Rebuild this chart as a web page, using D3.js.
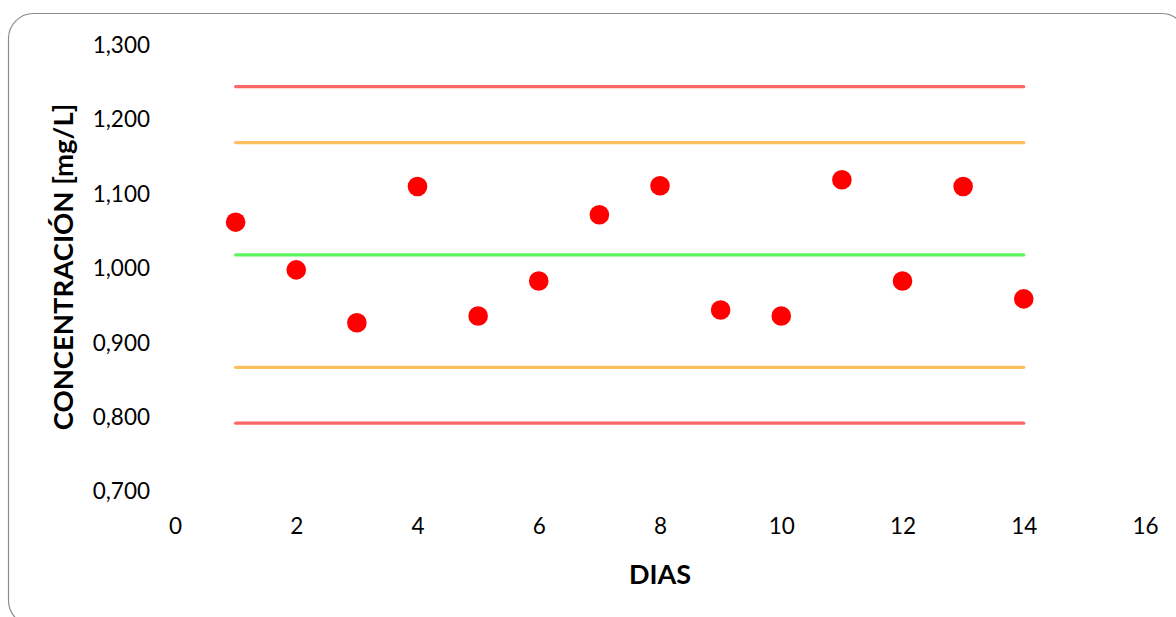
<!DOCTYPE html>
<html>
<head>
<meta charset="utf-8">
<script src="https://cdn.jsdelivr.net/npm/d3@7"></script>
<style>
  body { margin: 0; background: #fff; }
  text { font-family: Lato, "Open Sans", sans-serif; }
</style>
</head>
<body>
<div id="chart"></div>
<script>
// days and measured concentrations
var dias = [1, 2, 3, 4, 5, 6, 7, 8, 9, 10, 11, 12, 13, 14]
var concentracion = [1.062, 0.998, 0.927, 1.110, 0.936, 0.983, 1.072, 1.111, 0.944, 0.936, 1.119, 0.983, 1.110, 0.959]

// control limits (mean, +-2s, +-3s)
var limites = [
    { name: "LSC", value: 1.244, color: "#ff6666" },
    { name: "LSA", value: 1.169, color: "#ffbf5f" },
    { name: "media", value: 1.018, color: "#5cf55c" },
    { name: "LIA", value: 0.867, color: "#ffbf5f" },
    { name: "LIC", value: 0.792, color: "#ff6666" }
]

var xTicks = [0, 2, 4, 6, 8, 10, 12, 14, 16]
var yTicks = [0.7, 0.8, 0.9, 1.0, 1.1, 1.2, 1.3]

var width = 1176, height = 617

var svg = d3.select("#chart").append("svg")
    .attr("width", width)
    .attr("height", height)

svg.append("rect")
    .attr("x", 8.5).attr("y", 13.5)
    .attr("width", 1178).attr("height", 612)
    .attr("rx", 25).attr("ry", 25)
    .attr("fill", "#fff")
    .attr("stroke", "#8c8c8c")
    .attr("stroke-width", 1.2)

var x = d3.scaleLinear().domain([0, 16]).range([175, 1145])
var y = d3.scaleLinear().domain([0.7, 1.3]).range([491.7, 45])

var fmt = function(d){
    return d3.format(".3f")(d).replace(".", ",")
}

// y axis labels
var yAxis = svg.append("g").attr("transform", "translate(150,0)")
    .call(d3.axisLeft(y).tickValues(yTicks).tickFormat(fmt).tickSize(0).tickPadding(0))
yAxis.select(".domain").remove()
yAxis.selectAll("text")
    .attr("font-size", 22.5)
    .attr("fill", "#000")
    .style("font-family", "Lato, 'Open Sans', sans-serif")

// x axis labels
var xAxis = svg.append("g").attr("transform", "translate(0,518)")
    .call(d3.axisBottom(x).tickValues(xTicks).tickFormat(d3.format("d")).tickSize(0).tickPadding(0))
xAxis.select(".domain").remove()
xAxis.selectAll("text")
    .attr("font-size", 22.5)
    .attr("fill", "#000")
    .style("font-family", "Lato, 'Open Sans', sans-serif")

// control limit lines
svg.selectAll(".limite")
    .data(limites).enter()
    .append("line")
    .attr("class", "limite")
    .attr("x1", x(dias[0]))
    .attr("x2", x(dias[dias.length - 1]))
    .attr("y1", function(d){ return y(d.value) })
    .attr("y2", function(d){ return y(d.value) })
    .attr("stroke", function(d){ return d.color })
    .attr("stroke-width", 3.2)
    .attr("stroke-linecap", "round")

// points
svg.selectAll(".punto")
    .data(dias).enter()
    .append("circle")
    .attr("class", "punto")
    .attr("cx", function(d){ return x(d) })
    .attr("cy", function(d, i){ return y(concentracion[i]) })
    .attr("r", 9.8)
    .attr("fill", "#ff0000")

// axis titles
svg.append("text")
    .attr("transform", "translate(73,267) rotate(-90)")
    .attr("text-anchor", "middle")
    .attr("font-size", 27.5)
    .attr("font-weight", "bold")
    .text("CONCENTRACIÓN [mg/L]")

svg.append("text")
    .attr("x", 660).attr("y", 584)
    .attr("text-anchor", "middle")
    .attr("font-size", 27)
    .attr("font-weight", "bold")
    .text("DIAS")
</script>
</body>
</html>
